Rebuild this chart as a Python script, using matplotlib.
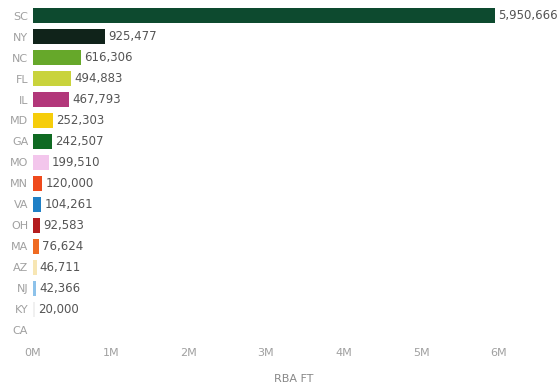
import matplotlib.pyplot as plt
from matplotlib.ticker import FuncFormatter

states = ['SC', 'NY', 'NC', 'FL', 'IL', 'MD', 'GA', 'MO', 'MN', 'VA', 'OH', 'MA', 'AZ', 'NJ', 'KY', 'CA']
values = [5950666, 925477, 616306, 494883, 467793, 252303, 242507, 199510, 120000, 104261, 92583, 76624, 46711, 42366, 20000, 0]
colors = ['#0d4a2f', '#10231a', '#66a82a', '#c9d33c', '#b2377a', '#f6cd0a', '#0f6a22', '#f3c6ec',
          '#ef4a1c', '#1f80c6', '#b41d1f', '#ef6b22', '#f7e6b4', '#8dc2ea', '#f0f0f0', '#ffffff']

fig = plt.figure(figsize=(5.6, 3.9), dpi=100)
ax = fig.add_axes([0.059, 0.126, 0.93, 0.861])

ypos = list(range(len(states)))
ax.barh(ypos, values, height=0.68, color=colors)
for y, v in zip(ypos, values):
    if v > 0:
        ax.text(v + 40000, y, f'{v:,}', va='center', ha='left', fontsize=8.5, color='#555555')

ax.set_yticks(ypos)
ax.set_yticklabels(states)
ax.set_ylim(len(states) - 0.5, -0.5)
ax.set_xlim(0, 6.71e6)
ax.set_xticks([0, 1e6, 2e6, 3e6, 4e6, 5e6, 6e6])
ax.xaxis.set_major_formatter(FuncFormatter(lambda x, p: f'{int(x / 1e6)}M'))
ax.tick_params(axis='both', length=0, labelsize=8, colors='#a0a0a0')
ax.tick_params(axis='x', pad=5)
ax.set_xlabel('RBA FT', fontsize=8, color='#888888', labelpad=8)
ax.xaxis.set_label_coords(0.5, -0.1)
for s in ax.spines.values():
    s.set_visible(False)

plt.savefig('out.png')
